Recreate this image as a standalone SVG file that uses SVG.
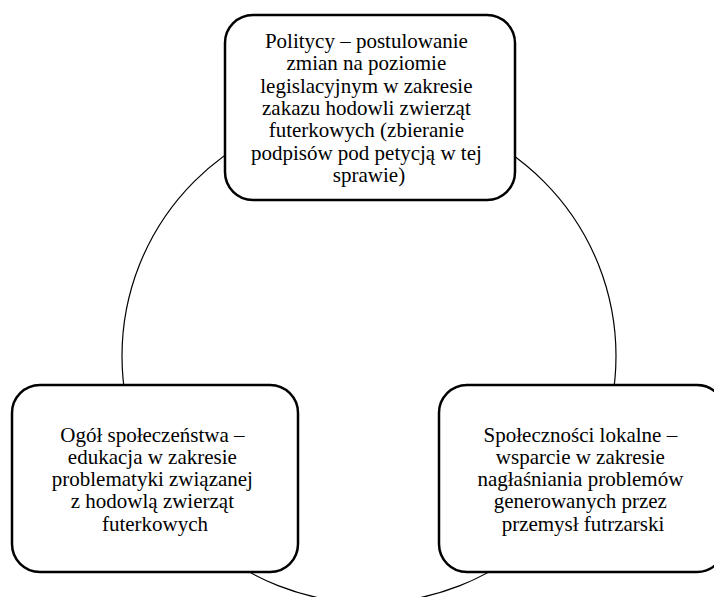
<svg xmlns="http://www.w3.org/2000/svg" width="714" height="597" viewBox="0 0 714 597">
  <style>
    .ring { fill: none; stroke: #000; stroke-width: 1.2; }
    .box { fill: #fff; stroke: #000; stroke-width: 2.5; }
    .label { font-family: "Liberation Serif", "Times New Roman", serif; font-size: 21px; fill: #000; text-anchor: middle; }
  </style>
  <rect width="714" height="597" fill="#fff"/>
  <!-- cycle connector drawn as one ring behind the boxes -->
  <g id="connectors">
    <circle class="ring" cx="369" cy="356" r="247"/>
  </g>
  <g id="node-politycy">
    <rect class="box" x="225" y="15" width="290" height="185" rx="28" ry="28"/>
    <text class="label">
      <tspan x="369" y="48">Politycy – postulowanie</tspan>
      <tspan x="369" y="70.3">zmian na poziomie</tspan>
      <tspan x="369" y="92.6">legislacyjnym w zakresie</tspan>
      <tspan x="369" y="114.9">zakazu hodowli zwierząt</tspan>
      <tspan x="369" y="137.2">futerkowych (zbieranie</tspan>
      <tspan x="369" y="159.5">podpisów pod petycją w tej</tspan>
      <tspan x="369" y="181.8">sprawie)</tspan>
    </text>
  </g>
  <g id="node-spolecznosci">
    <rect class="box" x="439" y="385" width="286" height="187" rx="28" ry="28"/>
    <text class="label">
      <tspan x="583" y="441.7">Społeczności lokalne –</tspan>
      <tspan x="583" y="463.9">wsparcie w zakresie</tspan>
      <tspan x="583" y="486.1">nagłaśniania problemów</tspan>
      <tspan x="583" y="508.3">generowanych przez</tspan>
      <tspan x="583" y="530.5">przemysł futrzarski</tspan>
    </text>
  </g>
  <g id="node-ogol">
    <rect class="box" x="12" y="385" width="286" height="187" rx="28" ry="28"/>
    <text class="label">
      <tspan x="155" y="441.7">Ogół społeczeństwa –</tspan>
      <tspan x="155" y="463.9">edukacja w zakresie</tspan>
      <tspan x="155" y="486.1">problematyki związanej</tspan>
      <tspan x="155" y="508.3">z hodowlą zwierząt</tspan>
      <tspan x="155" y="530.5">futerkowych</tspan>
    </text>
  </g>
</svg>
